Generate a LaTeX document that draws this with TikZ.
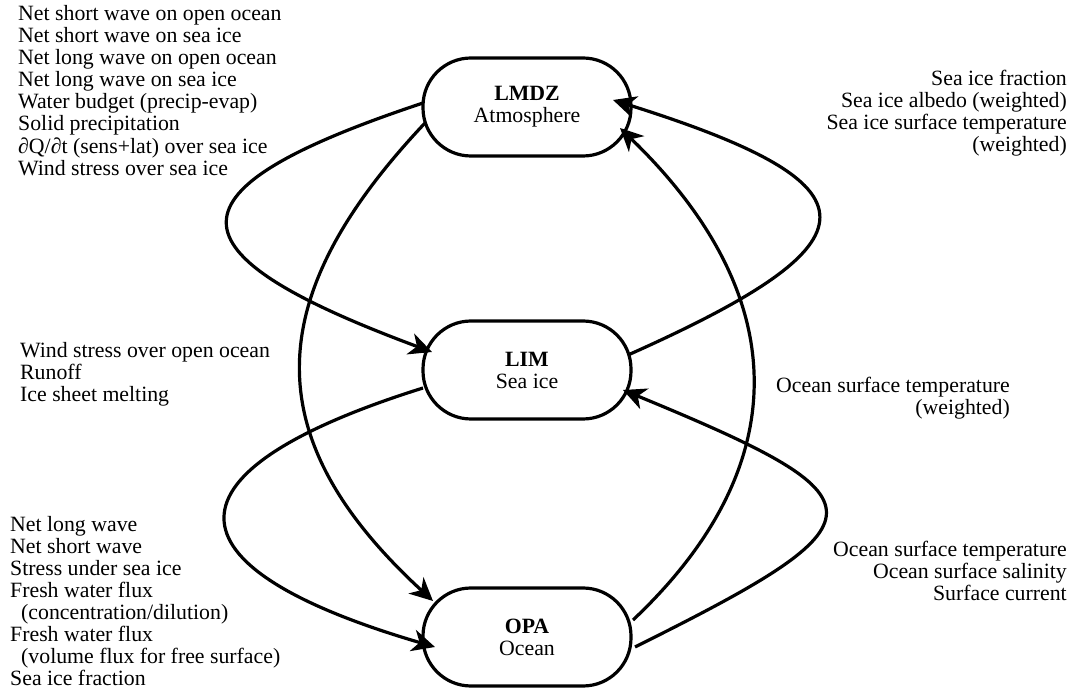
\documentclass[tikz,border=0pt]{standalone}
\usepackage{fontspec}
\setmainfont{Liberation Serif}
\usetikzlibrary{arrows.meta,calc}
\tikzset{
  model/.style={draw, line width=3.2pt, rounded corners=48pt, minimum width=208pt, minimum height=98pt, align=center, inner sep=0pt},
  flux/.style={line width=3.2pt, -{Stealth[length=23pt,width=22pt,inset=7pt]}},
  lbl/.style={inner sep=0pt},
}
\begin{document}
\begin{tikzpicture}[x=1pt,y=-1pt, font=\fontsize{21.8}{22}\selectfont]
\useasboundingbox (0,0) rectangle (1072,692);

\node[model] (lmdz) at (527,107) {\textbf{LMDZ}\\Atmosphere};
\node[model] (lim)  at (527,370) {\textbf{LIM}\\Sea ice};
\node[model] (opa)  at (527,637) {\textbf{OPA}\\Ocean};

% LMDZ -> LIM (left loop)
\draw[flux] ($(lmdz.center)+(-104,-4)$) .. controls (161,190) and (162,252) .. ($(lim.center)+(-95,-18)$);
% LIM -> LMDZ (right loop)
\draw[flux] ($(lim.center)+(101,-15)$) .. controls (884,241) and (884,185) .. ($(lmdz.center)+(86,-7)$);
% OPA -> LMDZ (big right arc)
\draw[flux] ($(opa.center)+(106,-17)$) .. controls (792,470) and (798,300) .. ($(lmdz.center)+(93,21)$);
% LMDZ -> OPA (big left arc)
\draw[flux] ($(lmdz.center)+(-102,16)$) .. controls (258,300) and (258,440) .. ($(opa.center)+(-94,-36)$);
% LIM -> OPA (left loop)
\draw[flux] ($(lim.center)+(-104,18)$) .. controls (158,471) and (158,566) .. ($(opa.center)+(-92,10)$);
% OPA -> LIM (right loop)
\draw[flux] ($(opa.center)+(108,10)$) .. controls (890,520) and (890,500) .. ($(lim.center)+(96,20)$);

\node[lbl, anchor=base west] (tl) at (18,21) {\begin{tabular}[t]{@{}l@{}}
Net short wave on open ocean\\
Net short wave on sea ice\\
Net long wave on open ocean\\
Net long wave on sea ice\\
Water budget (precip-evap)\\
Solid precipitation\\
∂Q/∂t (sens+lat) over sea ice\\
Wind stress over sea ice
\end{tabular}};

\node[lbl, anchor=base east] (tr) at (1067,86) {\begin{tabular}[t]{@{}r@{}}
Sea ice fraction\\
Sea ice albedo (weighted)\\
Sea ice surface temperature\\
(weighted)
\end{tabular}};

\node[lbl, anchor=base west] (ml) at (20,358) {\begin{tabular}[t]{@{}l@{}}
Wind stress over open ocean\\
Runoff\\
Ice sheet melting
\end{tabular}};

\node[lbl, anchor=base east] (mr) at (1010,393) {\begin{tabular}[t]{@{}r@{}}
Ocean surface temperature\\
(weighted)
\end{tabular}};

\node[lbl, anchor=base west] (bl) at (10,532) {\begin{tabular}[t]{@{}l@{}}
Net long wave\\
Net short wave\\
Stress under sea ice\\
Fresh water flux\\
\hspace*{11pt}(concentration/dilution)\\
Fresh water flux\\
\hspace*{11pt}(volume flux for free surface)\\
Sea ice fraction
\end{tabular}};

\node[lbl, anchor=base east] (br) at (1067,557) {\begin{tabular}[t]{@{}r@{}}
Ocean surface temperature\\
Ocean surface salinity\\
Surface current
\end{tabular}};
\end{tikzpicture}
\end{document}
